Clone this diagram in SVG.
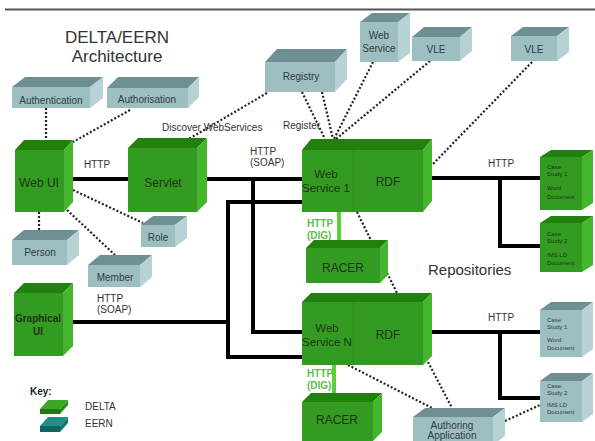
<svg xmlns="http://www.w3.org/2000/svg" width="595" height="441" viewBox="0 0 595 441">
<style>
text{font-family:"Liberation Sans",Arial,sans-serif}
.gf{fill:#349b22}.gt{fill:#22800f}.gr{fill:#45b52d}
.sf{fill:#9ebfc2}.st{fill:#6e9094}.sr{fill:#b7d2d4}
.gtx{fill:#1d3314;font-size:12px;text-anchor:middle}
.gsm{font-size:11.5px}
.gb{font-size:10px;font-weight:bold}
.stx{fill:#2f3b3d;font-size:10px;text-anchor:middle}
.cs{font-size:6px;fill:#1d3314}
.css{font-size:6px;fill:#2f3b3d}
.lbl{fill:#333;font-size:10px}
.dig{fill:#5cbf48;font-size:10px;font-weight:bold}
.thick{stroke:#000;stroke-width:4;fill:none}
.dot{stroke:#222;stroke-width:2.2;stroke-dasharray:2 2;fill:none}
.grn{stroke:#5ccf3a;stroke-width:4;fill:none}
</style>
<rect width="595" height="441" fill="#fff"/>
<line x1="5" y1="9.5" x2="595" y2="9.5" stroke="#555" stroke-width="2"/>
<g id="title">
<text x="117" y="43" font-size="17" text-anchor="middle" fill="#333">DELTA/EERN</text>
<text x="117" y="62" font-size="17" text-anchor="middle" fill="#333">Architecture</text>
</g>
<g id="connectors">
<line class="dot" x1="46" y1="108" x2="46" y2="140"/>
<line class="dot" x1="130" y1="110" x2="73" y2="142"/>
<line class="dot" x1="73" y1="190" x2="143" y2="223"/>
<line class="dot" x1="67" y1="210" x2="115" y2="255"/>
<line class="dot" x1="39" y1="212" x2="39" y2="230"/>
<line class="dot" x1="267" y1="93" x2="187" y2="140"/>
<line class="dot" x1="302" y1="92" x2="325" y2="139"/>
<line class="dot" x1="322" y1="92" x2="333" y2="139"/>
<line class="dot" x1="373" y1="62" x2="334" y2="139"/>
<line class="dot" x1="430" y1="61" x2="336" y2="139"/>
<line class="dot" x1="532" y1="62" x2="432" y2="165"/>
<line class="dot" x1="357" y1="212" x2="398" y2="295"/>
<line class="dot" x1="348" y1="365" x2="432" y2="408"/>
<line class="dot" x1="428" y1="362" x2="452" y2="408"/>
<line class="dot" x1="505" y1="421" x2="540" y2="405"/>
<polyline class="thick" points="68,179 128,179"/>
<polyline class="thick" points="200,179 302,179"/>
<polyline class="thick" points="253,179 253,332 302,332"/>
<polyline class="thick" points="302,202 228,202 228,357 302,357"/>
<polyline class="thick" points="66,322 228,322"/>
<polyline class="thick" points="426,178 540,178"/>
<polyline class="thick" points="500,178 500,246 540,246"/>
<polyline class="thick" points="426,332 540,332"/>
<polyline class="thick" points="500,332 500,398 540,398"/>
<line class="grn" x1="339" y1="212" x2="339" y2="242"/>
<line class="grn" x1="334" y1="365" x2="334" y2="395"/>
</g>
<g id="labels">
<text class="lbl" x="84" y="168">HTTP</text>
<text class="lbl" x="250" y="155">HTTP</text>
<text class="lbl" x="250" y="166">(SOAP)</text>
<text class="lbl" x="97" y="302">HTTP</text>
<text class="lbl" x="97" y="313">(SOAP)</text>
<text class="lbl" x="488" y="167">HTTP</text>
<text class="lbl" x="488" y="321">HTTP</text>
<text class="dig" x="307" y="227">HTTP</text>
<text class="dig" x="307" y="239">(DIG)</text>
<text class="dig" x="307" y="377">HTTP</text>
<text class="dig" x="307" y="389">(DIG)</text>
<text class="lbl" x="162" y="131">Discover WebServices</text>
<text class="lbl" x="283" y="129">Register</text>
<text x="428" y="275" font-size="15" fill="#333">Repositories</text>
</g>
<g id="authentication">
<rect class="sf" x="12" y="87" width="78" height="21"/>
<polygon class="st" points="12,87 25,77 103,77 90,87"/>
<polygon class="sr" points="90,87 103,77 103,98 90,108"/>
<text class="stx" x="51" y="104">Authentication</text>
</g>
<g id="authorisation">
<rect class="sf" x="107" y="88" width="81" height="20"/>
<polygon class="st" points="107,88 118,77 199,77 188,88"/>
<polygon class="sr" points="188,88 199,77 199,97 188,108"/>
<text class="stx" x="147" y="103">Authorisation</text>
</g>
<g id="registry">
<rect class="sf" x="265" y="62" width="70" height="30"/>
<polygon class="st" points="265,62 277,49 347,49 335,62"/>
<polygon class="sr" points="335,62 347,49 347,79 335,92"/>
<text class="stx" x="301" y="80">Registry</text>
</g>
<g id="webservice">
<rect class="sf" x="360" y="22" width="38" height="40"/>
<polygon class="st" points="360,22 372,13 410,13 398,22"/>
<polygon class="sr" points="398,22 410,13 410,53 398,62"/>
<text class="stx" x="379" y="39">Web</text>
<text class="stx" x="379" y="52">Service</text>
</g>
<g id="vle1">
<rect class="sf" x="412" y="37" width="48" height="24"/>
<polygon class="st" points="412,37 424,27 472,27 460,37"/>
<polygon class="sr" points="460,37 472,27 472,51 460,61"/>
<text class="stx" x="436" y="53">VLE</text>
</g>
<g id="vle2">
<rect class="sf" x="511" y="36" width="46" height="25"/>
<polygon class="st" points="511,36 523,27 569,27 557,36"/>
<polygon class="sr" points="557,36 569,27 569,52 557,61"/>
<text class="stx" x="534" y="53">VLE</text>
</g>
<g id="webui">
<rect class="gf" x="15" y="150" width="49" height="62"/>
<polygon class="gt" points="15,150 24,140 73,140 64,150"/>
<polygon class="gr" points="64,150 73,140 73,202 64,212"/>
<text class="gtx" x="39" y="187">Web UI</text>
</g>
<g id="servlet">
<rect class="gf" x="128" y="148" width="69" height="64"/>
<polygon class="gt" points="128,148 138,138 207,138 197,148"/>
<polygon class="gr" points="197,148 207,138 207,202 197,212"/>
<text class="gtx" x="163" y="187">Servlet</text>
</g>
<g id="role">
<rect class="sf" x="141" y="225" width="34" height="22"/>
<polygon class="st" points="141,225 153,216 187,216 175,225"/>
<polygon class="sr" points="175,225 187,216 187,238 175,247"/>
<text class="stx" x="158" y="241">Role</text>
</g>
<g id="person">
<rect class="sf" x="12" y="240" width="55" height="25"/>
<polygon class="st" points="12,240 24,230 79,230 67,240"/>
<polygon class="sr" points="67,240 79,230 79,255 67,265"/>
<text class="stx" x="40" y="256">Person</text>
</g>
<g id="member">
<rect class="sf" x="88" y="265" width="52" height="22"/>
<polygon class="st" points="88,265 100,255 152,255 140,265"/>
<polygon class="sr" points="140,265 152,255 152,277 140,287"/>
<text class="stx" x="115" y="281">Member</text>
</g>
<g id="graphicalui">
<rect class="gf" x="14" y="293" width="49" height="63"/>
<polygon class="gt" points="14,293 24,283 73,283 63,293"/>
<polygon class="gr" points="63,293 73,283 73,346 63,356"/>
<text class="gtx gb" x="38" y="322">Graphical</text>
<text class="gtx gb" x="38" y="335">UI</text>
</g>
<g id="webservice1">
<rect class="gf" x="302" y="150" width="121" height="62"/>
<polygon class="gt" points="302,150 311,139 432,139 423,150"/>
<polygon class="gr" points="423,150 432,139 432,201 423,212"/>
<line x1="353" y1="150" x2="353" y2="212" stroke="#2a8a1a" stroke-width="1"/>
<text class="gtx gsm" x="326" y="178">Web</text>
<text class="gtx gsm" x="326" y="192">Service 1</text>
<text class="gtx" x="388" y="186">RDF</text>
</g>
<g id="racer1">
<rect class="gf" x="306" y="248" width="74" height="35"/>
<polygon class="gt" points="306,248 314,240 388,240 380,248"/>
<polygon class="gr" points="380,248 388,240 388,275 380,283"/>
<text class="gtx" x="343" y="272">RACER</text>
</g>
<g id="webserviceN">
<rect class="gf" x="302" y="302" width="121" height="63"/>
<polygon class="gt" points="302,302 311,293 432,293 423,302"/>
<polygon class="gr" points="423,302 432,293 432,356 423,365"/>
<line x1="353" y1="302" x2="353" y2="365" stroke="#2a8a1a" stroke-width="1"/>
<text class="gtx gsm" x="327" y="332">Web</text>
<text class="gtx gsm" x="327" y="346">Service N</text>
<text class="gtx" x="388" y="339">RDF</text>
</g>
<g id="racer2">
<rect class="gf" x="302" y="402" width="71" height="39"/>
<polygon class="gt" points="302,402 311,393 382,393 373,402"/>
<polygon class="gr" points="373,402 382,393 382,432 373,441"/>
<text class="gtx" x="337" y="424">RACER</text>
</g>
<g id="authoring">
<rect class="sf" x="413" y="417" width="80" height="28"/>
<polygon class="st" points="413,417 425,408 505,408 493,417"/>
<polygon class="sr" points="493,417 505,408 505,436 493,445"/>
<text class="stx" x="452" y="429">Authoring</text>
<text class="stx" x="452" y="439">Application</text>
</g>
<g id="casestudy1a">
<rect class="gf" x="540" y="157" width="42" height="53"/>
<polygon class="gt" points="540,157 551,150 593,150 582,157"/>
<polygon class="gr" points="582,157 593,150 593,203 582,210"/>
<text class="cs" x="547" y="169">Case</text>
<text class="cs" x="547" y="176">Study 1</text>
<text class="cs" x="547" y="190">Word</text>
<text class="cs" x="547" y="199">Document</text>
</g>
<g id="casestudy2a">
<rect class="gf" x="540" y="223" width="42" height="49"/>
<polygon class="gt" points="540,223 551,216 593,216 582,223"/>
<polygon class="gr" points="582,223 593,216 593,265 582,272"/>
<text class="cs" x="547" y="236">Case</text>
<text class="cs" x="547" y="243">Study 2</text>
<text class="cs" x="547" y="257">IMS LD</text>
<text class="cs" x="547" y="265">Document</text>
</g>
<g id="casestudy1b">
<rect class="sf" x="540" y="310" width="42" height="47"/>
<polygon class="st" points="540,310 551,302 593,302 582,310"/>
<polygon class="sr" points="582,310 593,302 593,349 582,357"/>
<text class="css" x="547" y="322">Case</text>
<text class="css" x="547" y="329">Study 1</text>
<text class="css" x="547" y="342">Word</text>
<text class="css" x="547" y="350">Document</text>
</g>
<g id="casestudy2b">
<rect class="sf" x="540" y="381" width="42" height="41"/>
<polygon class="st" points="540,381 551,373 593,373 582,381"/>
<polygon class="sr" points="582,381 593,373 593,414 582,422"/>
<text class="css" x="547" y="388">Case</text>
<text class="css" x="547" y="395">Study 2</text>
<text class="css" x="547" y="407">IMS LD</text>
<text class="css" x="547" y="414">Document</text>
</g>
<g id="key">
<text x="30" y="395" font-size="10" font-weight="bold" fill="#222">Key:</text>
<polygon points="48,400 68,400 60,409 40,409" fill="#3aa826"/>
<polygon points="40,409 60,409 60,414 40,414" fill="#1f7a12"/>
<polygon points="60,409 68,400 68,405 60,414" fill="#2a8e1a"/>
<polygon points="48,417 68,417 60,426 40,426" fill="#1f9088"/>
<polygon points="40,426 60,426 60,432 40,432" fill="#0e6660"/>
<polygon points="60,426 68,417 68,423 60,432" fill="#137a72"/>
<text x="85" y="410" font-size="10" fill="#333">DELTA</text>
<text x="85" y="427" font-size="10" fill="#333">EERN</text>
</g>
</svg>
